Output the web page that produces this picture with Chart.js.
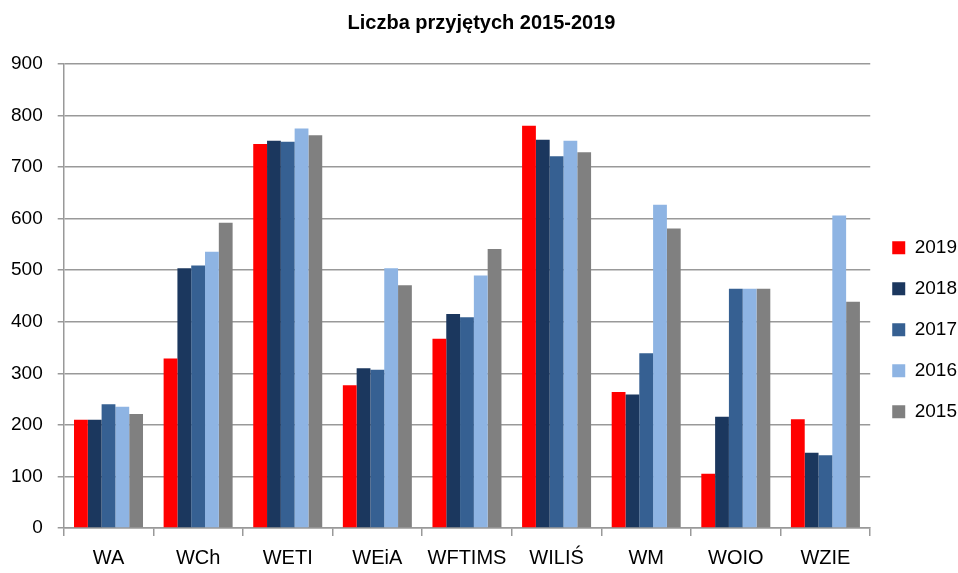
<!doctype html>
<html lang="pl">
  <head>
    <meta charset="utf-8">
    <title>Liczba przyjętych 2015-2019</title>
    <style>
      * { margin: 0; padding: 0; }
      body { background: #fff; }
      .chartBox { width: 958px; height: 573px; }
    </style>
  </head>
  <body>
    <div class="chartBox">
      <canvas id="myChart"></canvas>
    </div>
    <script src="https://cdn.jsdelivr.net/npm/chart.js/dist/chart.umd.min.js"></script>
    <script>
    // dane
    const wydzialy = ['WA', 'WCh', 'WETI', 'WEiA', 'WFTIMS', 'WILIŚ', 'WM', 'WOIO', 'WZIE'];
    const rok2019 = [210, 329, 745, 277, 367, 780, 264, 105, 211];
    const rok2018 = [210, 504, 751, 310, 415, 753, 259, 216, 146];
    const rok2017 = [240, 509, 749, 307, 409, 721, 339, 464, 141];
    const rok2016 = [235, 536, 775, 504, 490, 751, 627, 464, 606];
    const rok2015 = [221, 592, 762, 471, 541, 729, 581, 464, 439];
    const yTicks = [0, 100, 200, 300, 400, 500, 600, 700, 800, 900];

    const font = "'Liberation Sans', Arial, sans-serif";
    Chart.defaults.font.family = font;
    Chart.defaults.color = '#000';

    const data = {
      labels: wydzialy,
      datasets: [
        { label: '2019', data: rok2019, backgroundColor: '#FF0000' },
        { label: '2018', data: rok2018, backgroundColor: '#1B375E' },
        { label: '2017', data: rok2017, backgroundColor: '#366092' },
        { label: '2016', data: rok2016, backgroundColor: '#8EB4E3' },
        { label: '2015', data: rok2015, backgroundColor: '#808080' }
      ]
    };

    const config = {
      type: 'bar',
      data,
      options: {
        responsive: true,
        maintainAspectRatio: false,
        animation: false,
        datasets: {
          bar: { categoryPercentage: 0.77, barPercentage: 1.0, borderWidth: 0 }
        },
        layout: { padding: { left: -4, right: -9, top: 5, bottom: -7 } },
        plugins: {
          title: {
            display: true,
            text: 'Liczba przyjętych 2015-2019',
            font: { size: 20, weight: 'bold', family: font },
            padding: { top: 6, bottom: 29 }
          },
          legend: {
            position: 'right',
            title: { display: true, text: ' ', padding: { top: 60 } },
            labels: {
              boxWidth: 13,
              boxHeight: 13,
              padding: 22,
              font: { size: 19 }
            }
          },
          tooltip: { enabled: false }
        },
        scales: {
          x: {
            grid: {
              offset: true,
              drawOnChartArea: false,
              color: '#999',
              lineWidth: 1.5,
              tickLength: 8
            },
            border: { color: '#999', width: 1.5 },
            ticks: { font: { size: 20 }, padding: 10 }
          },
          y: {
            min: 0,
            max: 900,
            afterBuildTicks: (axis) => { axis.ticks = yTicks.map(v => ({ value: v })); },
            grid: { color: '#999', lineWidth: 1.5, tickLength: 6 },
            border: { color: '#999', width: 1.5 },
            ticks: { font: { size: 19 }, padding: 15 }
          }
        }
      }
    };

    const myChart = new Chart(document.getElementById('myChart'), config);
    </script>
  </body>
</html>
